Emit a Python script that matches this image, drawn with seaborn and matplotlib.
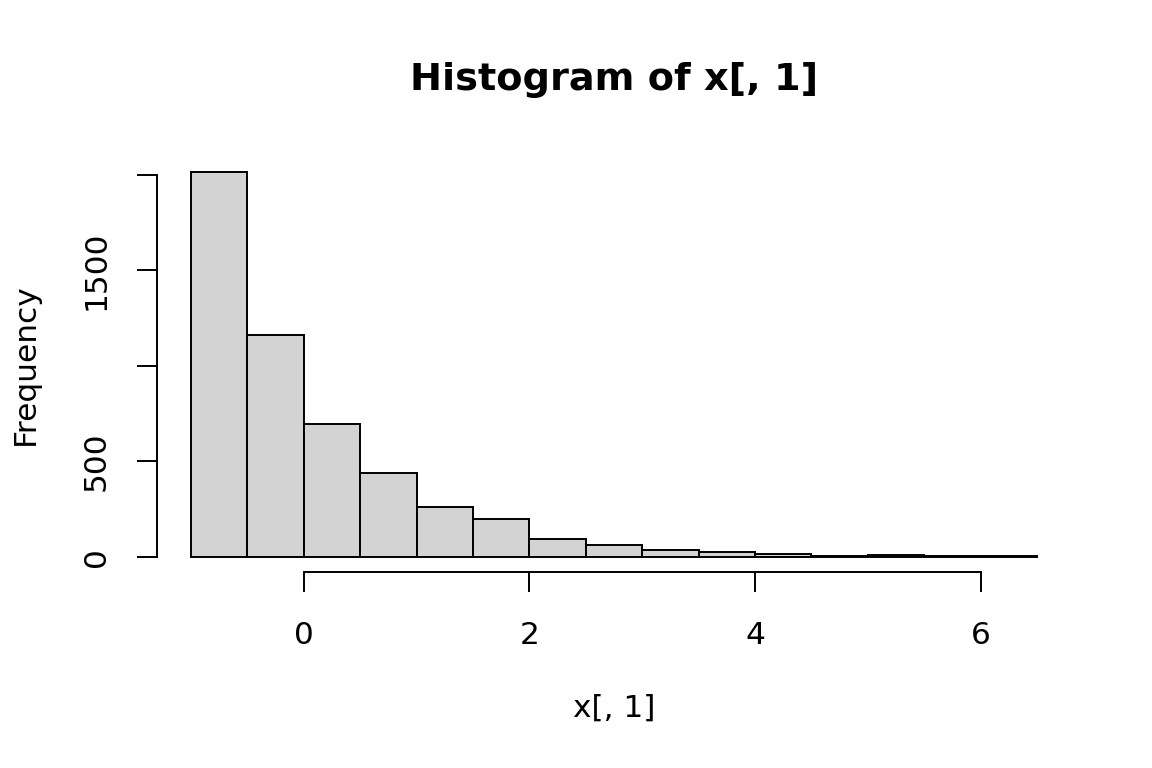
import numpy as np
import matplotlib
matplotlib.use("Agg")
import matplotlib.pyplot as plt
import seaborn as sns

# Data
bin_edges = [-1.0, -0.5, 0.0, 0.5, 1.0, 1.5, 2.0, 2.5, 3.0, 3.5, 4.0, 4.5, 5.0, 5.5, 6.0, 6.5]
counts = [2013, 1160, 697, 439, 259, 196, 93, 60, 37, 26, 12, 5, 7, 4, 2]
x_ticks = [0, 2, 4, 6]
y_ticks = [0, 500, 1000, 1500, 2000]
y_tick_labels = ["0", "500", "", "1500", ""]
title = "Histogram of x[, 1]"
xlabel = "x[, 1]"
ylabel = "Frequency"

sns.set_style("white")
plt.rcParams['font.family'] = ['DejaVu Sans']

W, H = 1152, 768
fig = plt.figure(figsize=(W / 100, H / 100), dpi=100)
left, right, top, bottom = 157, 1071, 157, 572
ax = fig.add_axes([left / W, 1 - bottom / H, (right - left) / W, (bottom - top) / H])

centers = [(bin_edges[i] + bin_edges[i + 1]) / 2 for i in range(len(counts))]
sns.histplot(x=centers, weights=counts, bins=bin_edges, ax=ax,
             color="#D3D3D3", edgecolor="black", linewidth=1.4, alpha=1.0)

lo, hi = bin_edges[0], bin_edges[-1]
pad = (hi - lo) * 0.04
ax.set_xlim(lo - pad, hi + pad)
ymax = max(counts)
ax.set_ylim(-ymax * 0.04, ymax * 1.04)

for s in ["top", "right"]:
    ax.spines[s].set_visible(False)
for s in ["left", "bottom"]:
    ax.spines[s].set_visible(True)
    ax.spines[s].set_color("black")
    ax.spines[s].set_linewidth(1.4)
ax.spines["bottom"].set_bounds(x_ticks[0], x_ticks[-1])
ax.spines["left"].set_bounds(y_ticks[0], y_ticks[-1])

ax.set_xticks(x_ticks)
ax.set_xticklabels([str(t) for t in x_ticks])
ax.set_yticks(y_ticks)
ax.set_yticklabels(y_tick_labels, rotation=90, va="center")
ax.tick_params(axis="both", which="major", bottom=True, left=True,
               direction="out", length=14.4, width=1.4,
               color="black", labelsize=22.5, labelcolor="black")
ax.tick_params(axis="x", pad=21)
ax.tick_params(axis="y", pad=19)
ax.grid(False)

ax.set_xlabel(xlabel, fontsize=22.5, color="black")
ax.xaxis.set_label_coords((614 - left) / (right - left), -(708 - bottom) / (bottom - top))
ax.xaxis.label.set_va("center")
ax.set_ylabel(ylabel, fontsize=22.5, color="black")
ax.yaxis.set_label_coords(-(left - 25) / (right - left), (bottom - 364) / (bottom - top))
ax.yaxis.label.set_va("center")

fig.text(614 / W, 1 - 80 / H, title, ha="center", va="center",
         fontsize=27.5, fontweight="bold", color="black")

fig.savefig("out.png", dpi=100, facecolor="white")
